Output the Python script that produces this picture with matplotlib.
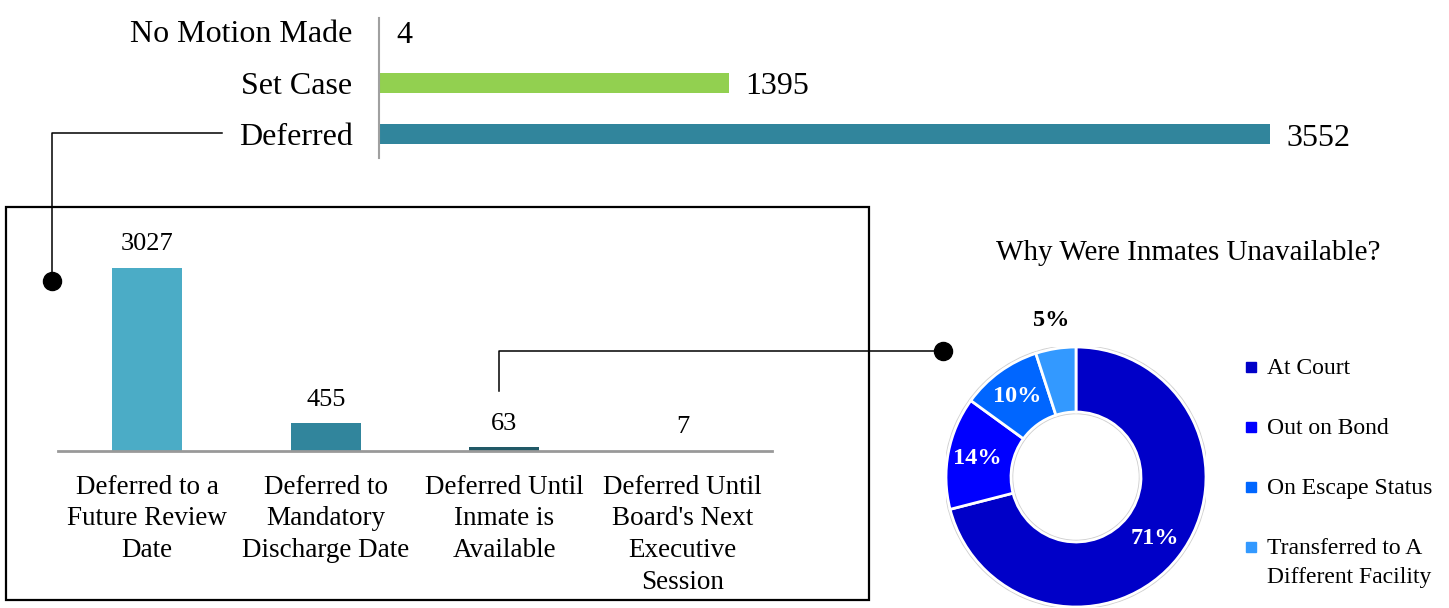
import matplotlib
matplotlib.use('Agg')
import matplotlib.pyplot as plt
from matplotlib.patches import Rectangle, Wedge
import numpy as np

plt.rcParams['font.family'] = ['Liberation Serif', 'DejaVu Serif']

W, H = 1449, 608

# 顶部：各类处理结果
top_labels = ['Deferred', 'Set Case', 'No Motion Made']
top_values = [3552, 1395, 4]
top_colors = ['#31859C', '#92D050', '#333333']

# 中部：Deferred 的细分
deferred_labels = ['Deferred to a\nFuture Review\nDate',
                   'Deferred to\nMandatory\nDischarge Date',
                   'Deferred Until\nInmate is\nAvailable',
                   "Deferred Until\nBoard's Next\nExecutive\nSession"]
deferred_values = [3027, 455, 63, 7]
deferred_colors = ['#4BACC6', '#31859C', '#215967', '#8497B0']

# 右侧：不在场原因
reason_title = 'Why Were Inmates Unavailable?'
reason_labels = ['At Court', 'Out on Bond', 'On Escape Status',
                 'Transferred to A\nDifferent Facility']
reason_values = [71, 14, 10, 5]
reason_colors = ['#0000C8', '#0000FF', '#0066FF', '#3399FF']


def box(x0, y0, x1, y1):
    # 像素坐标 -> figure 坐标
    return [x0 / W, 1 - y1 / H, (x1 - x0) / W, (y1 - y0) / H]


fig = plt.figure(figsize=(W / 100, H / 100), dpi=100)

# 顶部横向条形图
ax_top = fig.add_axes(box(379, 18, 1400, 158))
ax_top.patch.set_visible(False)
y = np.arange(len(top_labels))
ax_top.barh(y, top_values, height=0.39, color=top_colors)
ax_top.set_ylim(-0.47, 2.26)
ax_top.set_xlim(0, (1400 - 379) / 0.2508)
ax_top.set_yticks(y, top_labels, fontsize=23)
ax_top.tick_params(axis='y', length=0, pad=19)
ax_top.set_xticks([])
for s in ['top', 'right', 'bottom']:
    ax_top.spines[s].set_visible(False)
ax_top.spines['left'].set_color('#A0A0A0')
ax_top.spines['left'].set_linewidth(1.5)
for yi, v in zip(y, top_values):
    ax_top.annotate(str(v), (v, yi), xytext=(12, -3), textcoords='offset points',
                    va='center', ha='left', fontsize=23)

# 中部柱状图
ax_mid = fig.add_axes(box(58, 220, 772, 451))
ax_mid.patch.set_visible(False)
x = np.arange(len(deferred_labels))
ax_mid.bar(x, deferred_values, width=0.39, color=deferred_colors)
ax_mid.set_xlim(-0.5, 3.5)
ax_mid.set_ylim(0, (451 - 220) / 0.0605)
ax_mid.set_xticks(x, deferred_labels, fontsize=19.5, linespacing=1.36)
ax_mid.tick_params(axis='x', length=0, pad=17)
ax_mid.set_yticks([])
for s in ['top', 'right', 'left']:
    ax_mid.spines[s].set_visible(False)
ax_mid.spines['bottom'].set_color('#999999')
ax_mid.spines['bottom'].set_linewidth(2)
for xi, v in zip(x, deferred_values):
    ax_mid.annotate(str(v), (xi, v), xytext=(0, 17), textcoords='offset points',
                    ha='center', va='center', fontsize=19)

# 右侧环形图
ax_pie = fig.add_axes(box(946, 347, 1206, 607))
ax_pie.add_patch(Wedge((0, 0), 1.012, 0, 360, width=0.524, color='#D0D0D0', zorder=0))
wedges, _ = ax_pie.pie(reason_values, colors=reason_colors, startangle=90,
                       counterclock=False, radius=1,
                       wedgeprops=dict(width=0.5, edgecolor='white', linewidth=2))
ax_pie.set_xlim(-1, 1)
ax_pie.set_ylim(-1, 1)
ax_pie.set_aspect('equal')
total = sum(reason_values)
for w, v in zip(wedges, reason_values):
    ang = np.deg2rad((w.theta1 + w.theta2) / 2)
    inside = v / total > 0.07
    r = 0.77 if inside else 1.22
    ax_pie.text(r * np.cos(ang), r * np.sin(ang), f'{v / total * 100:.0f}%',
                ha='center', va='center', fontsize=17.5, fontweight='bold',
                color='white' if inside else 'black', clip_on=False)

fig.text(1188 / W, 1 - 253 / H, reason_title, ha='center', va='center', fontsize=21)

# 叠加层：图例、外框和连接线
ov = fig.add_axes([0, 0, 1, 1], zorder=5)
ov.set_xlim(0, W)
ov.set_ylim(H, 0)
ov.axis('off')
for i, (lab, col) in enumerate(zip(reason_labels, reason_colors)):
    ly = 367 + i * 60
    ov.plot(1251, ly, marker='s', ms=7, color=col, ls='none')
    ov.text(1267, ly - 9, lab, ha='left', va='top', fontsize=17, linespacing=1.5)

ov.add_patch(Rectangle((6, 207), 863, 393, fill=False, lw=1.6, ec='black'))
ov.plot([222, 52, 52], [133, 133, 281], color='black', lw=1.1)
ov.plot(52, 281, 'o', ms=13, color='black')
ov.plot([499, 499, 943], [391, 351, 351], color='black', lw=1.1)
ov.plot(943, 351, 'o', ms=13, color='black')

fig.savefig('out.png', dpi=100)
